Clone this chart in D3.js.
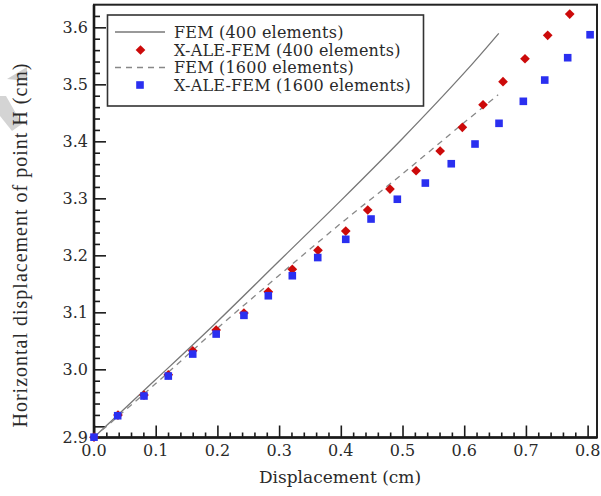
<!DOCTYPE html>
<html>
<head>
<meta charset="utf-8">
<script src="https://cdn.jsdelivr.net/npm/d3@7/dist/d3.min.js"></script>
<style>
  html, body { margin: 0; padding: 0; background: #fff; }
  svg { display: block; }
</style>
</head>
<body>
<svg id="chart" width="601" height="496"></svg>
<script>
// Horizontal displacement of point H versus applied displacement

// FEM (400 elements) – solid reference curve
const fem400X = [0, 0.1, 0.2, 0.3, 0.4, 0.5, 0.6, 0.656];
const fem400Y = [2.881, 2.982, 3.084, 3.190, 3.296, 3.405, 3.520, 3.5895];

// FEM (1600 elements) – dashed reference curve
const fem1600X = [0, 0.1, 0.2, 0.3, 0.4, 0.5, 0.6, 0.655];
const fem1600Y = [2.881, 2.975, 3.072, 3.165, 3.256, 3.343, 3.433, 3.4816];

// X-ALE-FEM (400 elements) – red diamonds
const ale400X = [0, 0.0389, 0.081, 0.1204, 0.160, 0.198, 0.243, 0.2825, 0.3214, 0.363, 0.408,
                 0.4436, 0.4797, 0.522, 0.561, 0.597, 0.6305, 0.6629, 0.6985, 0.7353, 0.771];
const ale400Y = [2.881, 2.9198, 2.9549, 2.9905, 3.0326, 3.069, 3.0988, 3.136, 3.1754, 3.2088, 3.2426,
                 3.2795, 3.3163, 3.3484, 3.383, 3.4246, 3.4642, 3.5046, 3.5449, 3.586, 3.6233];

// X-ALE-FEM (1600 elements) – blue squares
const ale1600X = [0, 0.0384, 0.081, 0.1204, 0.160, 0.198, 0.243, 0.2825, 0.3214, 0.3626, 0.408,
                  0.449, 0.4916, 0.537, 0.579, 0.6175, 0.6564, 0.6958, 0.7305, 0.7677, 0.804];
const ale1600Y = [2.881, 2.9186, 2.9532, 2.9882, 3.0268, 3.0619, 3.0947, 3.1291, 3.1642, 3.1961, 3.2281,
                  3.2637, 3.2984, 3.3268, 3.3607, 3.3953, 3.4316, 3.4702, 3.5075, 3.5467, 3.587];

// Axis ticks
const xMajor = [0, 0.1, 0.2, 0.3, 0.4, 0.5, 0.6, 0.7, 0.8];
const xTickLabels = ["0.0", "0.1", "0.2", "0.3", "0.4", "0.5", "0.6", "0.7", "0.8"];
const yMajor = [2.9, 3.0, 3.1, 3.2, 3.3, 3.4, 3.5, 3.6];
const yTickLabels = ["2.9", "3.0", "3.1", "3.2", "3.3", "3.4", "3.5", "3.6"];

const legendLabels = ["FEM (400 elements)", "X-ALE-FEM (400 elements)",
                      "FEM (1600 elements)", "X-ALE-FEM (1600 elements)"];

// Axis extents
const xDomain = [0, 0.8152];
const yDomain = [2.8804, 3.6397];

const svg = d3.select("#chart");
const plotL = 94, plotR = 597, plotT = 4.7, plotB = 437.5;

const x = d3.scaleLinear().domain(xDomain).range([plotL, plotR]);
const y = d3.scaleLinear().domain(yDomain).range([plotB, plotT]);

const serif = "'DejaVu Serif', serif";
const ink = "#1a1a1a";

// faint grey mark at the upper-left edge of the page
svg.append("polygon").attr("points", "7,79 27,67 27,81").attr("fill", "#cfcfcf");
svg.append("polygon").attr("points", "0,96 6,96 22,124 12,131 0,116").attr("fill", "#d4d4d4");

// minor tick values
const xMinor = d3.range(0, 0.8001, 0.02).filter(v => !xMajor.some(m => Math.abs(m - v) < 1e-6));
const yMinor = d3.range(2.9, 3.6301, 0.02).filter(v => !yMajor.some(m => Math.abs(m - v) < 1e-6));

// bottom axis, ticks pointing inward
const xAxisG = svg.append("g").attr("transform", `translate(0,${plotB})`);
xAxisG.call(d3.axisTop(x).tickValues(xMinor).tickSize(5).tickFormat(""));
xAxisG.append("g").call(d3.axisTop(x).tickValues(xMajor).tickSize(12).tickFormat(""));
xAxisG.selectAll(".domain").remove();
xAxisG.selectAll("line").attr("stroke", ink).attr("stroke-width", 1.6);

// left axis, ticks pointing inward
const yAxisG = svg.append("g").attr("transform", `translate(${plotL},0)`);
yAxisG.call(d3.axisRight(y).tickValues(yMinor).tickSize(6).tickFormat(""));
yAxisG.append("g").call(d3.axisRight(y).tickValues(yMajor).tickSize(12).tickFormat(""));
yAxisG.selectAll(".domain").remove();
yAxisG.selectAll("line").attr("stroke", ink).attr("stroke-width", 1.6);

// tick labels
svg.append("g").selectAll("text").data(xMajor).join("text")
  .attr("x", d => x(d)).attr("y", plotB + 18)
  .attr("text-anchor", "middle")
  .attr("font-family", serif).attr("font-size", 16).attr("fill", "#2a2a2a")
  .text((d, i) => xTickLabels[i]);

// lowest label sits at the foot of the axis
svg.append("g").selectAll("text").data(yMajor).join("text")
  .attr("x", plotL - 6)
  .attr("y", (d, i) => i === 0 ? y(yDomain[0]) : y(d))
  .attr("dy", "0.36em")
  .attr("text-anchor", "end")
  .attr("font-family", serif).attr("font-size", 16).attr("fill", "#2a2a2a")
  .text((d, i) => yTickLabels[i]);

// frame
svg.append("rect")
  .attr("x", plotL).attr("y", plotT)
  .attr("width", plotR - plotL).attr("height", plotB - plotT)
  .attr("fill", "none").attr("stroke", "#222").attr("stroke-width", 2);
svg.append("line").attr("x1", plotL).attr("x2", plotL).attr("y1", plotT).attr("y2", plotB + 1)
  .attr("stroke", ink).attr("stroke-width", 2.6);
svg.append("line").attr("x1", plotL - 1).attr("x2", plotR).attr("y1", plotB).attr("y2", plotB)
  .attr("stroke", ink).attr("stroke-width", 2.6);

// axis titles
svg.append("text")
  .attr("x", 340).attr("y", 483)
  .attr("text-anchor", "middle")
  .attr("font-family", serif).attr("font-size", 17).attr("fill", "#2a2a2a")
  .text("Displacement (cm)");
svg.append("text")
  .attr("transform", "translate(27,245) rotate(-90)")
  .attr("text-anchor", "middle")
  .attr("font-family", "'Liberation Serif', serif").attr("font-size", 20)
  .attr("letter-spacing", 1).attr("fill", "#2a2a2a")
  .text("Horizontal displacement of point H (cm)");

// curves
const lineGen = d3.line().x(d => x(d[0])).y(d => y(d[1])).curve(d3.curveCatmullRom);
svg.append("path")
  .datum(d3.zip(fem400X, fem400Y))
  .attr("d", lineGen)
  .attr("fill", "none").attr("stroke", "#777").attr("stroke-width", 1.3);
svg.append("path")
  .datum(d3.zip(fem1600X, fem1600Y))
  .attr("d", lineGen)
  .attr("fill", "none").attr("stroke", "#888").attr("stroke-width", 1.3)
  .attr("stroke-dasharray", "6,5");

// markers
const diamond = d3.symbol().type(d3.symbolDiamond2).size(60);
const red = "#cc0a0a", blue = "#2a2ff0";
svg.append("g").selectAll("path").data(d3.zip(ale400X, ale400Y)).join("path")
  .attr("transform", d => `translate(${x(d[0])},${y(d[1])})`)
  .attr("d", diamond)
  .attr("fill", red);
svg.append("g").selectAll("rect").data(d3.zip(ale1600X, ale1600Y)).join("rect")
  .attr("x", d => x(d[0]) - 3.8).attr("y", d => y(d[1]) - 3.8)
  .attr("width", 7.6).attr("height", 7.6)
  .attr("fill", blue);

// legend
const lg = svg.append("g");
lg.append("rect")
  .attr("x", 107.5).attr("y", 15).attr("width", 316).attr("height", 91)
  .attr("fill", "#fff").attr("stroke", "#333").attr("stroke-width", 1.6);
const rowY = [32, 50, 67.5, 85];
lg.append("line").attr("x1", 115).attr("x2", 165).attr("y1", rowY[0]).attr("y2", rowY[0])
  .attr("stroke", "#777").attr("stroke-width", 1.3);
lg.append("path").attr("transform", `translate(140.5,${rowY[1]})`).attr("d", diamond).attr("fill", red);
lg.append("line").attr("x1", 115).attr("x2", 165).attr("y1", rowY[2]).attr("y2", rowY[2])
  .attr("stroke", "#888").attr("stroke-width", 1.3).attr("stroke-dasharray", "6,5");
lg.append("rect").attr("x", 140 - 3.8).attr("y", rowY[3] - 3.8).attr("width", 7.6).attr("height", 7.6)
  .attr("fill", blue);
lg.selectAll("text").data(legendLabels).join("text")
  .attr("x", 174).attr("y", (d, i) => rowY[i])
  .attr("dy", "0.36em")
  .attr("font-family", serif).attr("font-size", 16).attr("letter-spacing", 0.2).attr("fill", "#2a2a2a")
  .text(d => d);
</script>
</body>
</html>
